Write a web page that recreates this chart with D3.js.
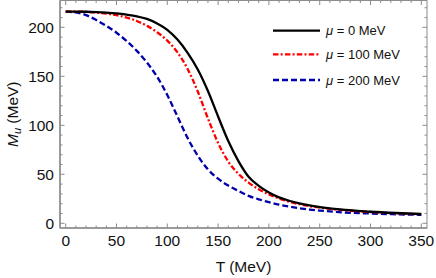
<!DOCTYPE html>
<html><head><meta charset="utf-8">
<script src="https://cdn.jsdelivr.net/npm/d3@7"></script>
<style>body{margin:0;background:#fff}svg{display:block}text{font-family:"Liberation Sans",Arial,sans-serif}</style>
</head><body><svg id="c" width="436" height="278"></svg>
<script>
const temps = [0,10,20,30,40,50,60,70,80,90,100,110,120,130,140,150,160,170,180,190,200,210,220,230,240,250,275,300,325,350];
const mu0   = [216,216,215.9,215.6,215.1,214.3,213,211.3,208.6,204,197.5,187.5,174,157,135,109,84,63.5,47.5,38.2,31.5,26.5,23,20.3,18.2,16.6,13.6,11.8,10.5,9.5];
const mu100 = [216,216,215.8,215.1,214,212.4,210,206.5,201.5,195,186.5,174.5,157.5,134.5,107,82,63,50.5,41.5,34.8,29.5,25.3,22,19.5,17.5,16,13.2,11.5,10.2,9.2];
const mu200 = [216,215.2,212.5,207.5,201.5,194.5,186,176,164,149.5,131,109,87,69,55,45.5,38.5,33,28,24.5,21.5,19,17,15.4,14,13,11,10,9.2,8.6];
const seriesNames = ["\u03bc = 0 MeV","\u03bc = 100 MeV","\u03bc = 200 MeV"];
const xTicks = [0,50,100,150,200,250,300,350];
const yTicks = [0,50,100,150,200];

const svg = d3.select("#c");
const L=60,R=427,T=0.5,B=228;
const x = d3.scaleLinear().domain([-5.6,355.6]).range([L,R]);
const y = d3.scaleLinear().domain([-4.8,227.4]).range([B,T]);
const frameCol="#8c8c8c";

const series=[
 {vals:mu0,color:"#000000",dash:null},
 {vals:mu100,color:"#ff0000",dash:"5.5,2.2,2,2.2"},
 {vals:mu200,color:"#0000aa",dash:"6,3"}
];

const line=d3.line().x((d,i)=>x(temps[i])).y(d=>y(d)).curve(d3.curveMonotoneX);
const g=svg.append("g");
series.slice().reverse().forEach(s=>{
  g.append("path").attr("d",line(s.vals)).attr("fill","none").attr("stroke",s.color)
   .attr("stroke-width",2.3).attr("stroke-dasharray",s.dash);
});

svg.append("rect").attr("x",L).attr("y",T).attr("width",R-L).attr("height",B-T)
  .attr("fill","none").attr("stroke",frameCol).attr("stroke-width",1);

const xMinor=d3.range(0,351,10), yMinor=d3.range(0,221,10);
const tk=svg.append("g").attr("stroke",frameCol).attr("stroke-width",1);
xMinor.forEach(v=>{
  const len = v%50===0?4.5:2.5;
  tk.append("line").attr("x1",x(v)).attr("x2",x(v)).attr("y1",B).attr("y2",B-len);
  tk.append("line").attr("x1",x(v)).attr("x2",x(v)).attr("y1",T).attr("y2",T+len);
});
yMinor.forEach(v=>{
  const len = v%50===0?4.5:2.5;
  tk.append("line").attr("y1",y(v)).attr("y2",y(v)).attr("x1",L).attr("x2",L+len);
  tk.append("line").attr("y1",y(v)).attr("y2",y(v)).attr("x1",R).attr("x2",R-len);
});
svg.append("line").attr("x1",L).attr("x2",R).attr("y1",B).attr("y2",B).attr("stroke",frameCol).attr("stroke-width",1.5);
svg.append("line").attr("x1",L).attr("x2",L).attr("y1",T).attr("y2",B).attr("stroke",frameCol).attr("stroke-width",1.5);

const fs=15.5;
svg.append("g").selectAll("text").data(xTicks).join("text")
  .attr("x",d=>x(d)).attr("y",246).attr("text-anchor","middle").attr("font-size",fs).attr("fill","#111").text(d=>d);
svg.append("g").selectAll("text").data(yTicks).join("text")
  .attr("x",54).attr("y",d=>y(d)+5.5).attr("text-anchor","end").attr("font-size",fs).attr("fill","#111").text(d=>d);

svg.append("text").attr("x",(L+R)/2).attr("y",272).attr("text-anchor","middle").attr("font-size",fs).attr("fill","#111").text("T (MeV)");
const yt=svg.append("text").attr("transform",`translate(18,${(T+B)/2}) rotate(-90)`).attr("text-anchor","middle").attr("font-size",fs).attr("fill","#111");
yt.append("tspan").attr("font-style","italic").text("M");
yt.append("tspan").attr("font-style","italic").attr("font-size",11).attr("dy",3).text("u");
yt.append("tspan").attr("dy",-3).text(" (MeV)");

const ly=[30.7,54.3,80];
series.forEach((s,i)=>{
  svg.append("line").attr("x1",273).attr("x2",320).attr("y1",ly[i]).attr("y2",ly[i])
    .attr("stroke",s.color).attr("stroke-width",2.3).attr("stroke-dasharray",s.dash);
  const t=svg.append("text").attr("x",326).attr("y",ly[i]+4.5).attr("font-size",13).attr("fill","#111");
  const parts=seriesNames[i].split(" = ");
  t.append("tspan").attr("font-style","italic").text(parts[0]);
  t.append("tspan").text(" = "+parts[1]);
});
</script></body></html>
